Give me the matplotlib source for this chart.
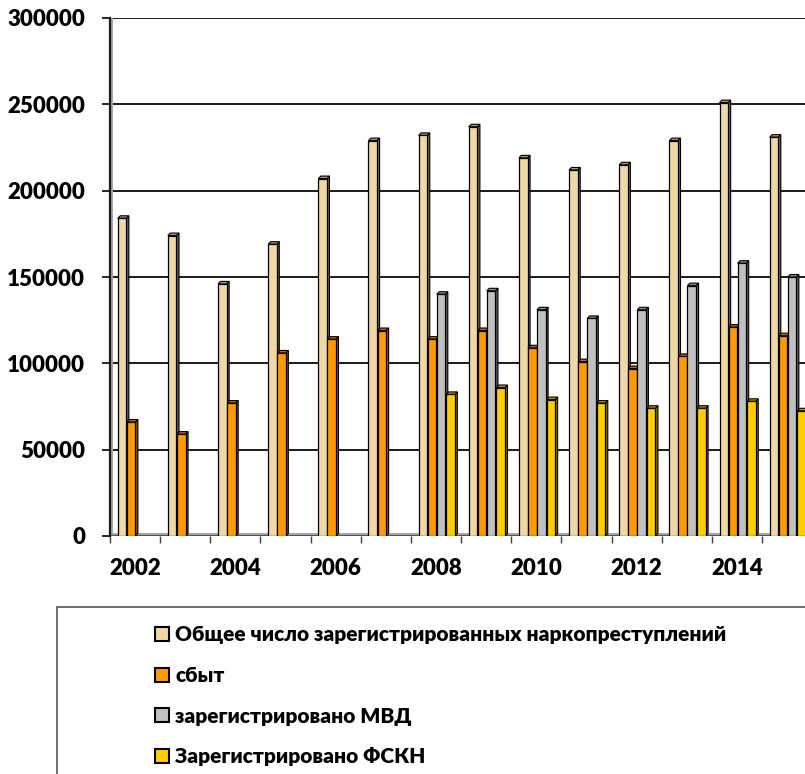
import numpy as np
import matplotlib
matplotlib.use("Agg")
import matplotlib.pyplot as plt
from matplotlib.patches import Polygon, Rectangle, Patch

plt.rcParams['font.family'] = ['Lato', 'Open Sans', 'DejaVu Sans']
plt.rcParams['font.weight'] = 'heavy'

years = list(range(2002, 2016))
total = [184000, 174000, 146000, 169000, 207000, 229000, 232000, 237000,
         219000, 212000, 215000, 229000, 251000, 231000]
sbyt = [66000, 59000, 77000, 106000, 114000, 119000, 114000, 119000,
        109000, 101000, 97000, 104000, 121000, 116000]
mvd = [0, 0, 0, 0, 0, 0, 140000, 142000, 131000, 126000, 131000, 145000,
       158000, 150000]
fskn = [0, 0, 0, 0, 0, 0, 82000, 86000, 79000, 77000, 74000, 74000,
        78000, 72500]

labels = ['Общее число зарегистрированных наркопреступлений', 'сбыт',
          'зарегистрировано МВД', 'Зарегистрировано ФСКН']
series = [total, sbyt, mvd, fskn]
front = ['#EFD8A6', '#FF9A06', '#C0C0C0', '#FFCC00']
side = ['#6E6048', '#8A5600', '#5A5A5A', '#857000']
top = ['#A89673', '#B86E00', '#8C8C8C', '#B89600']

fig = plt.figure(figsize=(8.05, 7.74), dpi=100)
ax = fig.add_axes([110 / 805, 1 - 536 / 774, 695 / 805, 518 / 774])

xmax = 695 / 50.15
dx, dy = 0.05, 1450
w = 0.172
offs = [0.24, 0.42, 0.60, 0.79]

# floor and left wall
ax.add_patch(Rectangle((0, 0), xmax, dy, facecolor='#A6A6A6', edgecolor='none', zorder=1))
ax.axhline(0, color='#404040', lw=1.2, zorder=1.5)
ax.add_patch(Rectangle((0, 0), dx, 300000, facecolor='#A6A6A6', edgecolor='none', zorder=1))

for v in range(50000, 300001, 50000):
    ax.plot([dx, xmax], [v, v], color='#1a1a1a', lw=1.4, zorder=0.5)

for s, vals in enumerate(series):
    for k, h in enumerate(vals):
        if h <= 0:
            continue
        x0 = k + offs[s] - w / 2
        x1 = x0 + w
        z = 2 + s
        ax.add_patch(Polygon([(x1, 0), (x1 + dx, dy), (x1 + dx, h + dy), (x1, h)],
                             closed=True, facecolor=side[s], edgecolor='black', lw=0.8, zorder=z))
        ax.add_patch(Polygon([(x0, h), (x0 + dx, h + dy), (x1 + dx, h + dy), (x1, h)],
                             closed=True, facecolor=top[s], edgecolor='black', lw=0.8, zorder=z))
        ax.bar(x0, h, width=w, align='edge', color=front[s], edgecolor='black',
               lw=0.9, zorder=z)

ax.set_xlim(0, xmax)
ax.set_ylim(0, 300000)
for sp in ['top', 'right']:
    ax.spines[sp].set_visible(False)
ax.spines['left'].set_linewidth(1.6)
ax.spines['left'].set_color('#1a1a1a')
ax.spines['bottom'].set_visible(False)

ax.set_yticks(range(0, 300001, 50000))
ax.set_yticklabels([str(v) for v in range(0, 300001, 50000)], fontsize=16, fontweight='heavy')
ax.tick_params(axis='y', length=6, width=1.2, pad=12)

ax.set_xticks(np.arange(0, len(years)))
ax.set_xticklabels([])
ax.set_xticks([k + 0.5 for k in range(0, len(years), 2)], minor=True)
ax.set_xticklabels([str(years[k]) for k in range(0, len(years), 2)], minor=True,
                   fontsize=16, fontweight='heavy')
ax.tick_params(axis='x', which='major', length=5, width=1.0, color='#404040')
ax.tick_params(axis='x', which='minor', length=0, pad=16)

# legend box, cut off at the figure edge
fig.patches.append(Rectangle((57 / 805, -0.05), 1.0, 1 - 607 / 774 + 0.05,
                             transform=fig.transFigure, facecolor='white',
                             edgecolor='#555555', lw=1.2))
handles = [Patch(facecolor=front[i], edgecolor='black', lw=1.5) for i in range(4)]
fig.legend(handles, labels, loc='upper left', bbox_to_anchor=(145 / 805, 1 - 615 / 774),
           frameon=False, prop={'size': 15, 'weight': 'heavy'}, handlelength=0.65,
           handleheight=0.65, handletextpad=0.3, labelspacing=1.04, borderpad=0)

fig.savefig('out.png', dpi=100)
